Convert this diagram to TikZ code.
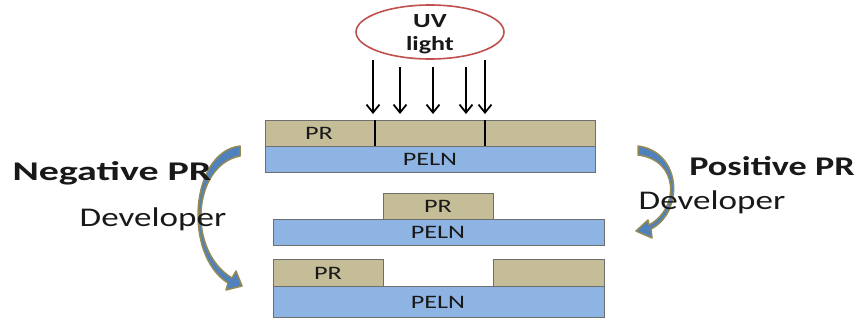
\documentclass[tikz,border=0pt]{standalone}
\usepackage{fontspec}
\usepackage{graphicx}
\setmainfont{Carlito}
\usetikzlibrary{arrows.meta,shapes.geometric}
\definecolor{prc}{HTML}{C4BD97}
\definecolor{pelnc}{HTML}{8DB4E2}
\definecolor{bordc}{HTML}{6E6E6E}
\definecolor{arrblue}{HTML}{4F81BD}
\definecolor{arrolive}{HTML}{948A54}
\definecolor{uvred}{HTML}{C0504D}
\newcommand\hs[2][1.38]{\scalebox{#1}[1]{#2}}
\tikzset{
  layer/.style={draw=bordc, line width=1.1pt, anchor=north west, inner sep=0pt},
  prbox/.style={layer, fill=prc},
  pelnbox/.style={layer, fill=pelnc},
  lbl/.style={font=\fontsize{19}{19}\selectfont, text=black!90, inner sep=0pt},
  uvlbl/.style={font=\fontsize{20}{20}\selectfont\bfseries, text=black!90, inner sep=0pt},
  big/.style={font=\fontsize{27}{27}\selectfont, text=black!90, inner sep=0pt},
  bigb/.style={font=\fontsize{27}{27}\selectfont\bfseries, text=black!90, inner sep=0pt},
  uvarrow/.style={line width=1.8pt, -{Straight Barb[length=8pt,width=13pt,line width=1.8pt]}},
  divider/.style={line width=2.4pt, black},
  curvarrow/.style={fill=arrblue, draw=arrolive, line width=1.5pt, line join=round},
}
\begin{document}
\begin{tikzpicture}[x=1pt,y=-1pt]
\useasboundingbox (0,0) rectangle (856,322);
% top stack
\node[prbox, minimum width=330pt, minimum height=26pt] (pr1) at (265,120) {};
\node[pelnbox, minimum width=330pt, minimum height=26pt] (peln1) at (265,146) {};
\draw[divider] (375,120) -- (375,146);
\draw[divider] (485,120) -- (485,146);
\node[lbl] (pr1t) at (319,133) {\hs{PR}};
\node[lbl] (peln1t) at (430,159) {\hs{PELN}};
% middle stack
\node[prbox, minimum width=110pt, minimum height=26pt] (pr2) at (383,193) {};
\node[pelnbox, minimum width=331pt, minimum height=26pt] (peln2) at (273,219) {};
\node[lbl] (pr2t) at (438,206) {\hs{PR}};
\node[lbl] (peln2t) at (438,232) {\hs{PELN}};
% bottom stack
\node[prbox, minimum width=110pt, minimum height=27pt] (pr3a) at (273,259) {};
\node[prbox, minimum width=111pt, minimum height=27pt] (pr3b) at (493,259) {};
\node[pelnbox, minimum width=331pt, minimum height=31pt] (peln3) at (273,286) {};
\node[lbl] (pr3t) at (328,273) {\hs{PR}};
\node[lbl] (peln3t) at (438,302) {\hs{PELN}};
% UV light
\node[ellipse, draw=uvred, line width=1.6pt, fill=white, minimum width=148pt, minimum height=54pt] (uv) at (430,32) {};
\node[uvlbl] (uvt) at (430,21) {\hs[1.35]{UV}};
\node[uvlbl] (lightt) at (430,45) {\hs[1.3]{light}};
\foreach \i/\x/\y in {1/373/60, 2/400/67, 3/433/67, 4/466/67, 5/485/60}{
  \coordinate (s\i) at (\x,\y);
  \coordinate (e\i) at (\x,114);
  \draw[uvarrow] (s\i) -- (e\i);
}
% left curved arrow
\draw[curvarrow] (240,146) .. controls (190,152) and (183,255) .. (228,283)
  -- (226,290) -- (242,286) -- (236,271) -- (232,278)
  .. controls (186,250) and (193,165) .. (240,156) -- cycle;
% right curved arrow
\draw[curvarrow] (638,146) .. controls (682,152) and (684,212) .. (651,229)
  -- (652,238) -- (636,231) -- (648,220) -- (649,225)
  .. controls (680,208) and (679,160) .. (638,155) -- cycle;
% labels
\node[bigb] (neg) at (112,173) {\hs[1.48]{Negative PR}};
\node[big] (devl) at (153,219) {\hs[1.3]{Developer}};
\node[bigb] (pos) at (772,166) {\hs[1.34]{Positive PR}};
\node[big] (devr) at (712,202) {\hs[1.3]{Developer}};
\end{tikzpicture}
\end{document}
